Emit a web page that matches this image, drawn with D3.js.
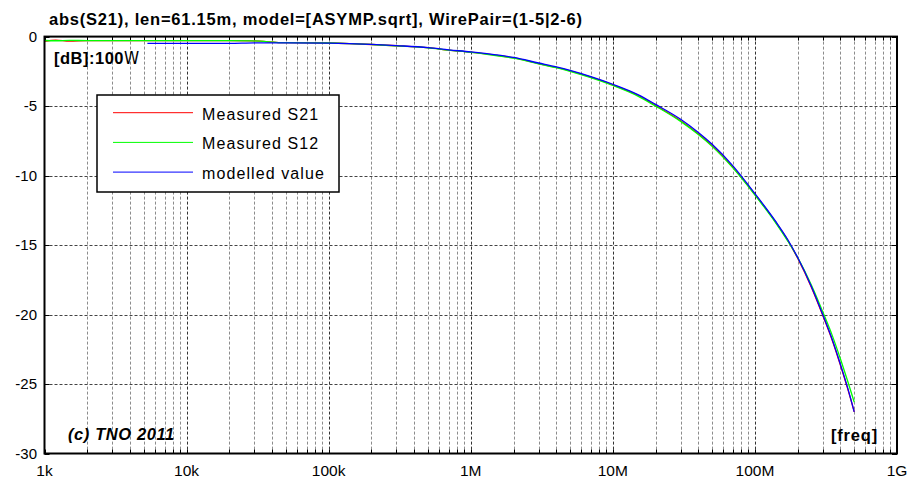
<!DOCTYPE html>
<html>
<head>
<meta charset="utf-8">
<script src="https://cdn.jsdelivr.net/npm/d3@7"></script>
<style>
  html, body { margin: 0; padding: 0; background: #fff; }
  svg { display: block; font-family: Arial, "Liberation Sans", sans-serif; }
</style>
</head>
<body>
<svg id="chart" width="911" height="478"></svg>
<script>
// Measured transfer, frequencies in Hz, values in dB
const freqHz = [1e3, 1.2e3, 1.5e3, 2e3, 5e3, 1e4, 2e4, 2.9e4, 5e4, 1e5, 1.4e5, 2e5, 3e5, 5e5, 7e5,
  1e6, 1.5e6, 2e6, 3e6, 4e6, 5e6, 7e6, 1e7, 1.5e7, 2e7, 3e7, 4e7, 5e7, 7e7,
  1e8, 1.4e8, 1.7e8, 2e8, 2.5e8, 3e8, 3.5e8, 4e8, 4.5e8, 5e8];
const s21Db = [-0.35, -0.25, -0.33, -0.29, -0.29, -0.29, -0.29, -0.31, -0.44, -0.46, -0.5, -0.57, -0.66, -0.8, -0.97,
  -1.12, -1.34, -1.53, -1.94, -2.22, -2.47, -2.92, -3.47, -4.22, -4.95, -6.05, -7.0, -7.85, -9.4,
  -11.35, -13.35, -14.65, -15.95, -18.05, -20.05, -21.85, -23.65, -25.35, -27.0];
const s12Db = [-0.28, -0.3, -0.27, -0.29, -0.29, -0.29, -0.29, -0.31, -0.44, -0.46, -0.5, -0.57, -0.67, -0.81, -0.98,
  -1.13, -1.36, -1.55, -1.96, -2.24, -2.5, -2.96, -3.52, -4.28, -5.0, -6.1, -7.05, -7.9, -9.45,
  -11.4, -13.4, -14.7, -15.9, -17.9, -19.8, -21.5, -23.2, -24.8, -26.3];

// Model curve (starts a little above 5 kHz)
const modelFreqHz = [5.3e3, 1e4, 2e4, 3e4, 5e4, 1e5, 1.4e5, 2e5, 3e5, 5e5, 7e5,
  1e6, 1.5e6, 2e6, 3e6, 4e6, 5e6, 7e6, 1e7, 1.5e7, 2e7, 3e7, 4e7, 5e7, 7e7,
  1e8, 1.4e8, 1.7e8, 2e8, 2.5e8, 3e8, 3.5e8, 4e8, 4.5e8, 5e8];
const modelDb = [-0.49, -0.49, -0.49, -0.45, -0.45, -0.47, -0.5, -0.56, -0.65, -0.79, -0.95,
  -1.1, -1.31, -1.5, -1.9, -2.18, -2.43, -2.88, -3.43, -4.17, -4.88, -5.95, -6.9, -7.75, -9.3,
  -11.3, -13.3, -14.6, -15.9, -18.0, -20.0, -21.8, -23.6, -25.3, -27.0];

const yTicks = [0, -5, -10, -15, -20, -25, -30];
const xTickValues = [1e3, 1e4, 1e5, 1e6, 1e7, 1e8, 1e9];
const xTickLabels = ["1k", "10k", "100k", "1M", "10M", "100M", "1G"];

const titleText = "abs(S21), len=61.15m, model=[ASYMP.sqrt], WirePair=(1-5|2-6)";
const legendLabels = ["Measured S21", "Measured S12", "modelled value"];
const seriesColors = ["#ff0000", "#00ff00", "#0000ff"];

const svg = d3.select("#chart");
const plotL = 44.5, plotR = 897, plotT = 36.6, plotB = 453.5;

const x = d3.scaleLog().domain([1e3, 1e9]).range([plotL, plotR]);
const y = d3.scaleLinear().domain([-30, 0]).range([plotB, plotT]);

// minor + major frequency grid positions
const gridFreqs = [];
for (let e = 3; e < 9; e++) {
  for (let m = 1; m <= 9; m++) gridFreqs.push(m * Math.pow(10, e));
}
gridFreqs.push(1e9);

const grid = svg.append("g");
grid.selectAll("line.vminor")
  .data(gridFreqs.filter(f => !xTickValues.includes(f)))
  .join("line")
  .attr("x1", d => Math.round(x(d)) + 0.5).attr("x2", d => Math.round(x(d)) + 0.5)
  .attr("y1", plotT).attr("y2", plotB)
  .attr("stroke", "#8c8c8c").attr("stroke-width", 1).attr("stroke-dasharray", "3,2");
grid.selectAll("line.vmajor")
  .data(xTickValues.slice(1, -1))
  .join("line")
  .attr("x1", d => Math.round(x(d)) + 0.5).attr("x2", d => Math.round(x(d)) + 0.5)
  .attr("y1", plotT).attr("y2", plotB)
  .attr("stroke", "#333").attr("stroke-width", 1).attr("stroke-dasharray", "3,2");
grid.selectAll("line.h")
  .data(yTicks.slice(1, -1))
  .join("line")
  .attr("x1", plotL).attr("x2", plotR)
  .attr("y1", d => Math.round(y(d)) + 0.5).attr("y2", d => Math.round(y(d)) + 0.5)
  .attr("stroke", "#444").attr("stroke-width", 1).attr("stroke-dasharray", "3,2");

// inner ticks on all four sides
const ticks = svg.append("g").attr("stroke", "#000").attr("stroke-width", 1);
gridFreqs.forEach(f => {
  const px = Math.round(x(f)) + 0.5;
  ticks.append("line").attr("x1", px).attr("x2", px).attr("y1", plotT).attr("y2", plotT + 4);
  ticks.append("line").attr("x1", px).attr("x2", px).attr("y1", plotB).attr("y2", plotB - 4);
});
yTicks.forEach(v => {
  const py = Math.round(y(v)) + 0.5;
  ticks.append("line").attr("x1", plotL).attr("x2", plotL + 5).attr("y1", py).attr("y2", py);
  ticks.append("line").attr("x1", plotR).attr("x2", plotR - 5).attr("y1", py).attr("y2", py);
});

// data lines
const line = d3.line().x(d => x(d[0])).y(d => y(d[1])).curve(d3.curveMonotoneX);
const series = [
  d3.zip(freqHz, s21Db),
  d3.zip(freqHz, s12Db),
  d3.zip(modelFreqHz, modelDb)
];
svg.append("g").selectAll("path")
  .data(series)
  .join("path")
  .attr("d", line)
  .attr("fill", "none")
  .attr("stroke", (d, i) => seriesColors[i])
  .attr("stroke-width", 1.3);

// frame
svg.append("rect")
  .attr("x", plotL).attr("y", plotT)
  .attr("width", plotR - plotL).attr("height", plotB - plotT)
  .attr("fill", "none").attr("stroke", "#000").attr("stroke-width", 2);

// axis labels
svg.append("g").selectAll("text")
  .data(yTicks)
  .join("text")
  .attr("x", 37).attr("y", d => y(d) + 5)
  .attr("text-anchor", "end")
  .attr("font-size", 15)
  .text(d => d);

svg.append("g").selectAll("text")
  .data(xTickValues)
  .join("text")
  .attr("x", d => x(d)).attr("y", 476)
  .attr("text-anchor", "middle")
  .attr("font-size", 15.5)
  .text((d, i) => xTickLabels[i]);

// title
svg.append("text")
  .attr("x", 49).attr("y", 25)
  .attr("font-size", 16.5).attr("font-weight", "bold")
  .attr("letter-spacing", 0.78)
  .text(titleText);

// unit annotation
const unit = svg.append("text").attr("x", 54).attr("y", 64).attr("font-size", 16.5);
unit.append("tspan").attr("font-weight", "bold").attr("letter-spacing", 0.5).text("[dB]:100");
unit.append("tspan").attr("font-size", 17).attr("font-family", "'DejaVu Sans Condensed', sans-serif").text("W");

svg.append("text")
  .attr("x", 68).attr("y", 440)
  .attr("font-size", 16.5).attr("font-weight", "bold").attr("font-style", "italic")
  .attr("letter-spacing", 0.6)
  .text("(c) TNO 2011");

svg.append("text")
  .attr("x", 878).attr("y", 441)
  .attr("text-anchor", "end")
  .attr("font-size", 16.5).attr("font-weight", "bold")
  .attr("letter-spacing", 0.8)
  .text("[freq]");

// legend
const lg = svg.append("g");
lg.append("rect")
  .attr("x", 97).attr("y", 95).attr("width", 242).attr("height", 97)
  .attr("fill", "#fff").attr("stroke", "#000").attr("stroke-width", 1.5);
legendLabels.forEach((lab, i) => {
  const ly = 112.7 + i * 29.7;
  lg.append("line")
    .attr("x1", 113).attr("x2", 193).attr("y1", ly).attr("y2", ly)
    .attr("stroke", seriesColors[i]).attr("stroke-width", 1);
  lg.append("text")
    .attr("x", 202).attr("y", ly + 7)
    .attr("font-size", 16)
    .attr("letter-spacing", 1.1)
    .text(lab);
});
</script>
</body>
</html>
